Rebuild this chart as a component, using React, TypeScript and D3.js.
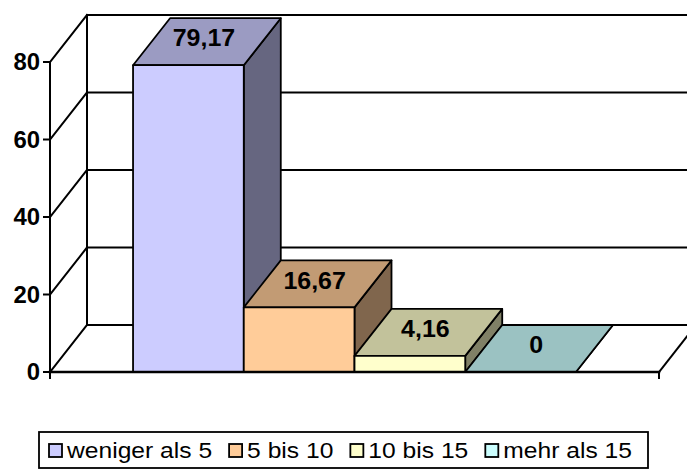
import { useEffect, useRef } from "react";
import * as d3 from "d3";

const SERIES = ["weniger als 5", "5 bis 10", "10 bis 15", "mehr als 15"];
const VALUES = [79.17, 16.67, 4.16, 0];
const VALUE_LABELS = ["79,17", "16,67", "4,16", "0"];
const COLORS = ["#CCCCFF", "#FFCC99", "#FFFFCC", "#CCFFFF"];
const Y_TICKS = [0, 20, 40, 60, 80];

const FONT = "'Liberation Sans', Arial, Helvetica, sans-serif";
const STRETCH = 1.12;
const BOLD_STRETCH = 1.04;

function shade(c: string, f: number) {
  const r = d3.rgb(c);
  return d3.rgb(r.r * f, r.g * f, r.b * f).formatHex();
}

export default function App() {
  const svgRef = useRef<SVGSVGElement>(null);

  useEffect(() => {
    if (!svgRef.current) return;
    const width = 687;
    const height = 470;
    const left = 50;
    const right = 659;
    const dx = 37;
    const dy = 47;

    const svg = d3.select(svgRef.current);
    svg.selectAll("*").remove();
    svg.attr("width", width).attr("height", height);

    const y = d3.scaleLinear().domain([0, 80]).range([372, 62]);
    const x = d3.scaleBand().domain(SERIES).range([left, right]).paddingInner(0).paddingOuter(0.75);
    const bw = x.bandwidth();

    const g = svg.append("g").attr("stroke", "#000").attr("stroke-linecap", "square");

    // back wall
    Y_TICKS.forEach((t) => {
      g.append("line")
        .attr("x1", left + dx).attr("y1", y(t) - dy)
        .attr("x2", right + dx).attr("y2", y(t) - dy)
        .attr("stroke-width", 2);
    });
    g.append("line")
      .attr("x1", left + dx).attr("y1", y(80) - dy)
      .attr("x2", left + dx).attr("y2", y(0) - dy)
      .attr("stroke-width", 2);

    // left wall
    Y_TICKS.forEach((t) => {
      g.append("line")
        .attr("x1", left).attr("y1", y(t))
        .attr("x2", left + dx).attr("y2", y(t) - dy)
        .attr("stroke-width", 2);
      g.append("line")
        .attr("x1", left - 6).attr("y1", y(t))
        .attr("x2", left).attr("y2", y(t))
        .attr("stroke-width", 2);
    });
    g.append("line")
      .attr("x1", left).attr("y1", y(80))
      .attr("x2", left).attr("y2", y(0))
      .attr("stroke-width", 2);

    // floor right edge
    g.append("line")
      .attr("x1", right).attr("y1", y(0))
      .attr("x2", right + dx).attr("y2", y(0) - dy)
      .attr("stroke-width", 2);

    // bars, left to right
    SERIES.forEach((s, i) => {
      const x0 = x(s)!;
      const x1 = x0 + bw;
      const yt = y(VALUES[i]);
      const yb = y(0);
      const bar = g.append("g").attr("stroke-width", 1.8).attr("stroke-linejoin", "round");
      bar.append("polygon")
        .attr("points", [[x1, yt], [x1 + dx, yt - dy], [x1 + dx, yb - dy], [x1, yb]].join(" "))
        .attr("fill", shade(COLORS[i], 0.5));
      bar.append("polygon")
        .attr("points", [[x0, yt], [x0 + dx, yt - dy], [x1 + dx, yt - dy], [x1, yt]].join(" "))
        .attr("fill", shade(COLORS[i], 0.76));
      bar.append("rect")
        .attr("x", x0).attr("y", yt)
        .attr("width", bw).attr("height", yb - yt)
        .attr("fill", COLORS[i]);
    });

    // floor front line + category ticks
    g.append("line")
      .attr("x1", left).attr("y1", y(0))
      .attr("x2", right).attr("y2", y(0))
      .attr("stroke-width", 2.5);
    [left, right].forEach((px) => {
      g.append("line")
        .attr("x1", px).attr("y1", y(0))
        .attr("x2", px).attr("y2", y(0) + 6)
        .attr("stroke-width", 2);
    });

    // value labels
    SERIES.forEach((s, i) => {
      const cx = x(s)! + bw / 2 + dx / 2 - 3;
      const cy = y(VALUES[i]) - dy / 2 - 4;
      svg.append("text")
        .attr("transform", `translate(${cx},${cy}) scale(${BOLD_STRETCH},1)`)
        .attr("text-anchor", "middle")
        .attr("dy", "0.36em")
        .attr("font-family", FONT)
        .attr("font-weight", "bold")
        .attr("font-size", 24)
        .attr("fill", "#000")
        .text(VALUE_LABELS[i]);
    });

    // y tick labels
    Y_TICKS.forEach((t) => {
      svg.append("text")
        .attr("transform", `translate(${left - 10},${y(t)}) scale(${BOLD_STRETCH},1)`)
        .attr("text-anchor", "end")
        .attr("dy", "0.36em")
        .attr("font-family", FONT)
        .attr("font-weight", "bold")
        .attr("font-size", 23)
        .attr("fill", "#000")
        .text(String(t));
    });

    // legend
    const lg = svg.append("g");
    lg.append("rect")
      .attr("x", 39).attr("y", 432)
      .attr("width", 609).attr("height", 36)
      .attr("fill", "#fff").attr("stroke", "#000").attr("stroke-width", 1.8);
    let cursor = 49;
    SERIES.forEach((s, i) => {
      lg.append("rect")
        .attr("x", cursor).attr("y", 444)
        .attr("width", 13).attr("height", 13)
        .attr("fill", COLORS[i]).attr("stroke", "#000").attr("stroke-width", 1.8);
      const tx = cursor + 18;
      const txt = lg.append("text")
        .attr("transform", `translate(${tx},450.5) scale(${STRETCH},1)`)
        .attr("dy", "0.36em")
        .attr("font-family", FONT)
        .attr("font-size", 22)
        .attr("fill", "#000")
        .text(s);
      const w = (txt.node() as SVGTextElement).getComputedTextLength() * STRETCH;
      cursor = tx + w + 17;
    });
  }, []);

  return (
    <svg
      ref={svgRef}
      style={{ position: "absolute", left: 0, top: 0, display: "block", background: "#fff" }}
    />
  );
}
